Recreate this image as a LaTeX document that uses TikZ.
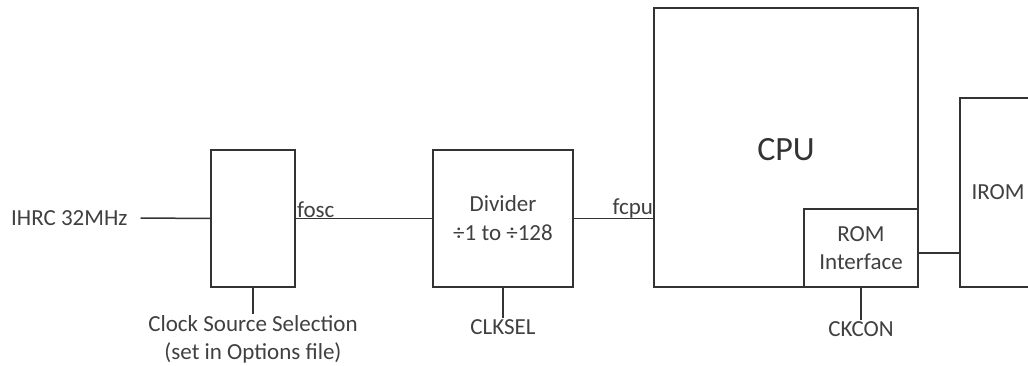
\documentclass[tikz,border=0pt]{standalone}
\usepackage{fontspec}
\setmainfont{Carlito}
\usepackage{tikz}
\usetikzlibrary{positioning}

\begin{document}
\begin{tikzpicture}[
    x=1pt, y=-1pt,
    wire/.style={draw=black!80, line width=1.5pt},
    blk/.style={draw=black!80, line width=1.7pt, inner sep=0pt, text=black!75,
                font=\fontsize{23}{28}\selectfont, align=center},
    lbl/.style={inner sep=1pt, text=black!75, font=\fontsize{23}{28}\selectfont, align=center}
]
  \useasboundingbox (0,0) rectangle (1028,366);
  \clip (0,0) rectangle (1028,366);

  % blocks
  \node[blk, minimum width=84pt, minimum height=137pt] (clk) at (253,218.5) {};
  \node[blk, minimum width=140pt, minimum height=137pt] (div) at (503,218.5) {Divider\\[1pt]÷1 to ÷128};
  \node[blk, minimum width=264pt, minimum height=279pt] (cpu) at (786,147.5) {};
  \node[font=\fontsize{34}{40}\selectfont, text=black!80] (cpulbl) at (786,150) {CPU};
  \node[blk, minimum width=114pt, minimum height=78pt] (rom) at (861,248) {ROM\\Interface};
  \node[blk, minimum width=76pt, minimum height=189pt] (irom) at (998,192.5) {IROM};

  % labels
  \node[lbl, anchor=west] (ihrc) at (10,218) {IHRC 32MHz};
  \node[lbl, anchor=south west] (fosc) at (clk.east) {fosc};
  \node[lbl, anchor=south east, inner sep=0pt] (fcpu) at (div.east -| cpu.west) {fcpu};
  \node[lbl, anchor=north] (clksrc) at (253,314) {Clock Source Selection\\(set in Options file)};
  \node[lbl, anchor=north] (clksel) at (503,318) {CLKSEL};
  \node[lbl, anchor=north] (ckcon) at (861,320) {CKCON};

  % connections
  \draw[wire] ([xshift=12pt]ihrc.east) -- (clk.west);
  \draw[wire] (clk.east) -- (div.west);
  \draw[wire] (div.east) -- (div.east -| cpu.west);
  \draw[wire] ([yshift=-5pt]rom.east) -- ([yshift=-5pt]rom.east -| irom.west);
  \draw[wire, line width=1.1pt] (clk.south) -- (clksrc.north);
  \draw[wire, line width=1.1pt] (div.south) -- (clksel.north);
  \draw[wire, line width=1.1pt] (rom.south) -- (ckcon.north);
\end{tikzpicture}
\end{document}
